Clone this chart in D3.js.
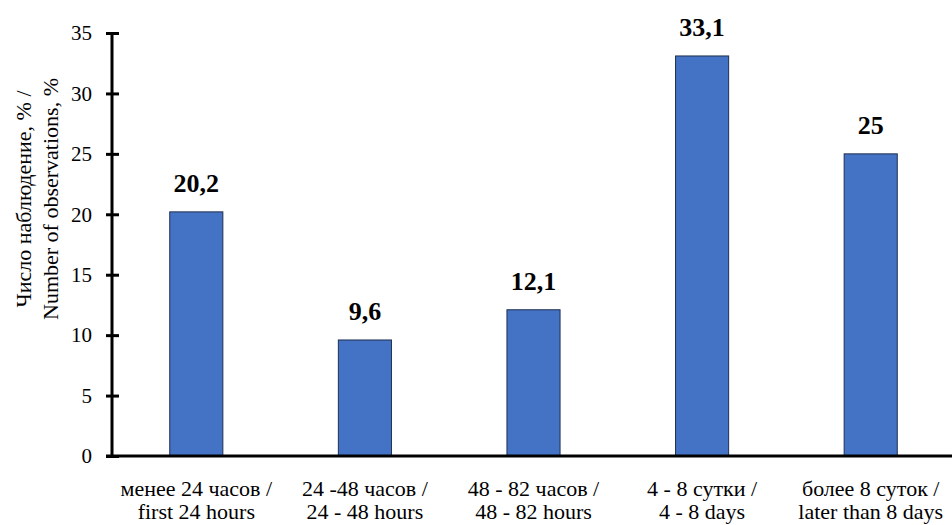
<!DOCTYPE html>
<html>
<head>
<meta charset="utf-8">
<script src="https://cdn.jsdelivr.net/npm/d3@7"></script>
<style>
  html, body { margin: 0; padding: 0; background: #fff; }
  svg { display: block; }
</style>
</head>
<body>
<svg id="chart" width="952" height="525"></svg>
<script>
// Share of observations by time interval
const categoriesRu = ["менее 24 часов /", "24 -48 часов /", "48 - 82 часов /", "4 - 8 сутки /", "более 8 суток /"];
const categoriesEn = ["first 24 hours", "24 - 48 hours", "48 - 82 hours", "4 - 8 days", "later than 8 days"];
const values = [20.2, 9.6, 12.1, 33.1, 25];
const valueLabels = ["20,2", "9,6", "12,1", "33,1", "25"];
const yTicks = [0, 5, 10, 15, 20, 25, 30, 35];
const yTitle = ["Число наблюдение, % /", "Number of observations, %"];

const FONT = "'Liberation Serif', 'Times New Roman', serif";
const svg = d3.select("#chart");
const margin = { left: 112, right: -3, top: 33, bottom: 69 };
const W = 952, H = 525;

const x = d3.scaleBand()
  .domain(d3.range(values.length))
  .range([margin.left, W - margin.right])
  .paddingInner(0.685)
  .paddingOuter(0.3425);

const y = d3.scaleLinear()
  .domain([0, 35])
  .range([H - margin.bottom, margin.top]);

// Bars
svg.append("g")
  .selectAll("rect")
  .data(values)
  .join("rect")
  .attr("x", (d, i) => x(i))
  .attr("y", d => y(d))
  .attr("width", x.bandwidth())
  .attr("height", d => y(0) - y(d))
  .attr("fill", "#4472C4")
  .attr("stroke", "#1f2f4f")
  .attr("stroke-width", 1);

// Value labels
svg.append("g")
  .selectAll("text")
  .data(values)
  .join("text")
  .attr("x", (d, i) => x(i) + x.bandwidth() / 2)
  .attr("y", d => y(d) - 20)
  .attr("text-anchor", "middle")
  .attr("font-family", FONT)
  .attr("font-size", 26)
  .attr("font-weight", "bold")
  .attr("fill", "#000")
  .text((d, i) => valueLabels[i]);

// Y axis with ticks crossing the line
const yAxis = d3.axisLeft(y)
  .tickValues(yTicks)
  .tickSize(6)
  .tickPadding(14)
  .tickFormat(d3.format("d"));

const gy = svg.append("g")
  .attr("transform", `translate(${margin.left},0)`)
  .call(yAxis)
  .attr("font-family", FONT)
  .attr("font-size", 21);
gy.select(".domain").attr("stroke", "#000").attr("stroke-width", 3)
  .attr("d", `M0,${y(35)}V${y(0)}`);
gy.selectAll(".tick line")
  .attr("x1", 7).attr("x2", -6)
  .attr("stroke", "#000").attr("stroke-width", 3);
gy.selectAll(".tick text")
  .attr("fill", "#000");

// X axis baseline
svg.append("line")
  .attr("x1", margin.left - 6)
  .attr("x2", W)
  .attr("y1", y(0))
  .attr("y2", y(0))
  .attr("stroke", "#000")
  .attr("stroke-width", 3);

// Category labels (two lines)
const cat = svg.append("g")
  .selectAll("text")
  .data(values)
  .join("text")
  .attr("text-anchor", "middle")
  .attr("font-family", FONT)
  .attr("font-size", 22)
  .attr("fill", "#000");
cat.append("tspan")
  .attr("x", (d, i) => x(i) + x.bandwidth() / 2)
  .attr("y", 496)
  .text((d, i) => categoriesRu[i]);
cat.append("tspan")
  .attr("x", (d, i) => x(i) + x.bandwidth() / 2)
  .attr("y", 519)
  .text((d, i) => categoriesEn[i]);

// Y axis title
const title = svg.append("text")
  .attr("transform", "translate(0,199) rotate(-90)")
  .attr("text-anchor", "middle")
  .attr("font-family", FONT)
  .attr("font-size", 22)
  .attr("fill", "#000");
title.append("tspan").attr("x", 0).attr("y", 31).text(yTitle[0]);
title.append("tspan").attr("x", 0).attr("y", 58).text(yTitle[1]);
</script>
</body>
</html>
